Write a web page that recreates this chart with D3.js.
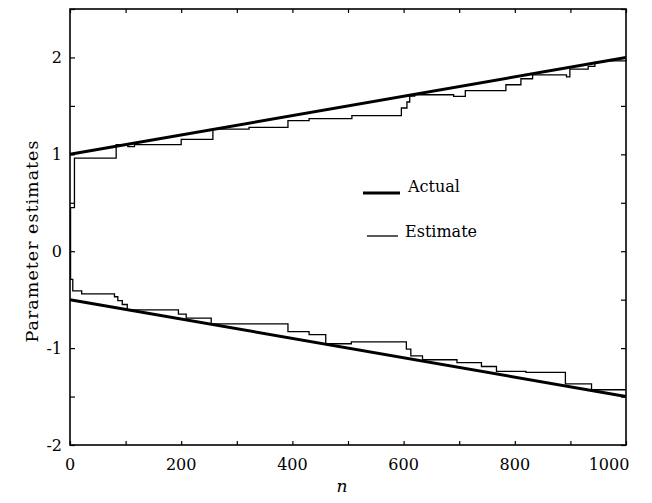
<!DOCTYPE html>
<html>
<head>
<meta charset="utf-8">
<script src="https://cdn.jsdelivr.net/npm/d3@7/dist/d3.min.js"></script>
<style>
  html, body { margin: 0; padding: 0; background: #fff; }
  svg { display: block; }
  text { font-family: "DejaVu Serif", "Liberation Serif", serif; fill: #000; }
</style>
</head>
<body>
<svg id="chart" width="652" height="503"></svg>
<script>
// ---- data ----
const actualUpper = [[0, 1.0], [1000, 2.0]];
const actualLower = [[0, -0.5], [1000, -1.5]];

const estimateUpperN = [0, 1, 8, 83, 104, 116, 200, 257, 322, 392, 430, 507, 596, 606, 611, 620, 690, 711, 784, 811, 832, 893, 899, 932, 944, 960, 1000];
const estimateUpperV = [0, 0.45, 0.96, 1.10, 1.08, 1.10, 1.155, 1.26, 1.278, 1.347, 1.368, 1.40, 1.478, 1.54, 1.60, 1.615, 1.598, 1.657, 1.718, 1.78, 1.82, 1.80, 1.88, 1.907, 1.95, 1.965, 1.98];

const estimateLowerN = [0, 1, 5, 21, 80, 86, 94, 103, 195, 209, 254, 392, 430, 460, 506, 605, 613, 634, 696, 740, 767, 820, 891, 938, 1000];
const estimateLowerV = [0, -0.29, -0.41, -0.44, -0.47, -0.51, -0.55, -0.605, -0.65, -0.69, -0.75, -0.83, -0.86, -0.955, -0.935, -1.01, -1.08, -1.12, -1.15, -1.19, -1.24, -1.25, -1.37, -1.43, -1.43];

const xTicks = [0, 100, 200, 300, 400, 500, 600, 700, 800, 900, 1000];
const xTickLabels = [0, 200, 400, 600, 800, 1000];
const yTicks = [-2, -1.5, -1, -0.5, 0, 0.5, 1, 1.5, 2, 2.5];
const yTickLabels = [-2, -1, 0, 1, 2];

const legendLabels = ["Actual", "Estimate"];
const yTitle = "Parameter estimates";
const xTitle = "n";

// ---- layout ----
const svg = d3.select("#chart");
const L = 70, R = 626, T = 9, B = 445;
const x = d3.scaleLinear().domain([0, 1000]).range([L, R]);
const y = d3.scaleLinear().domain([-2, 2.5]).range([B, T]);

const line = d3.line().x(d => x(d[0])).y(d => y(d[1]));
const stepLine = d3.line().x(d => x(d[0])).y(d => y(d[1])).curve(d3.curveStepAfter);

const zipN = (ns, vs) => ns.map((n, i) => [n, vs[i]]);

// estimates (thin)
[zipN(estimateUpperN, estimateUpperV), zipN(estimateLowerN, estimateLowerV)].forEach(d => {
  svg.append("path").datum(d).attr("d", stepLine)
    .attr("fill", "none").attr("stroke", "#000").attr("stroke-width", 1.3);
});

// actual (thick)
[actualUpper, actualLower].forEach(d => {
  svg.append("path").datum(d).attr("d", line)
    .attr("fill", "none").attr("stroke", "#000").attr("stroke-width", 3);
});

// frame
svg.append("rect").attr("x", L).attr("y", T).attr("width", R - L).attr("height", B - T)
  .attr("fill", "none").attr("stroke", "#000").attr("stroke-width", 1.6);

// axes with inward ticks
const axB = d3.axisBottom(x).tickValues(xTicks).tickSizeInner(-4).tickSizeOuter(0).tickFormat("");
const axT = d3.axisTop(x).tickValues(xTicks).tickSizeInner(-4).tickSizeOuter(0).tickFormat("");
const axL = d3.axisLeft(y).tickValues(yTicks).tickSizeInner(-5).tickSizeOuter(0).tickFormat("");
const axR = d3.axisRight(y).tickValues(yTicks).tickSizeInner(-5).tickSizeOuter(0).tickFormat("");
[[axB, `translate(0,${B})`], [axT, `translate(0,${T})`], [axL, `translate(${L},0)`], [axR, `translate(${R},0)`]].forEach(([ax, tr]) => {
  const g = svg.append("g").attr("transform", tr).call(ax);
  g.select(".domain").remove();
  g.selectAll("line").attr("stroke", "#000").attr("stroke-width", 1.2);
});

// tick labels
svg.append("g").selectAll("text").data(xTickLabels).join("text")
  .attr("x", d => d === 1000 ? x(d) - 17 : x(d))
  .attr("y", 470)
  .attr("text-anchor", "middle")
  .attr("font-size", 16)
  .text(d => d);

svg.append("g").selectAll("text").data(yTickLabels).join("text")
  .attr("x", 62)
  .attr("y", d => y(d))
  .attr("dy", "0.35em")
  .attr("text-anchor", "end")
  .attr("font-size", 16)
  .text(d => d);

// axis titles
svg.append("text")
  .attr("transform", `translate(38,241) rotate(-90)`)
  .attr("text-anchor", "middle")
  .attr("font-size", 17.5)
  .attr("letter-spacing", 1)
  .text(yTitle);

svg.append("text")
  .attr("x", 342).attr("y", 492)
  .attr("text-anchor", "middle")
  .attr("font-size", 17)
  .attr("font-style", "italic")
  .text(xTitle);

// legend
const legend = svg.append("g");
legend.append("line").attr("x1", 363).attr("x2", 400).attr("y1", 193).attr("y2", 193)
  .attr("stroke", "#000").attr("stroke-width", 3);
legend.append("text").attr("x", 408).attr("y", 192).attr("font-size", 16).text(legendLabels[0]);
legend.append("line").attr("x1", 367).attr("x2", 398).attr("y1", 236).attr("y2", 236)
  .attr("stroke", "#000").attr("stroke-width", 1.3);
legend.append("text").attr("x", 405).attr("y", 237).attr("font-size", 16).text(legendLabels[1]);
</script>
</body>
</html>
